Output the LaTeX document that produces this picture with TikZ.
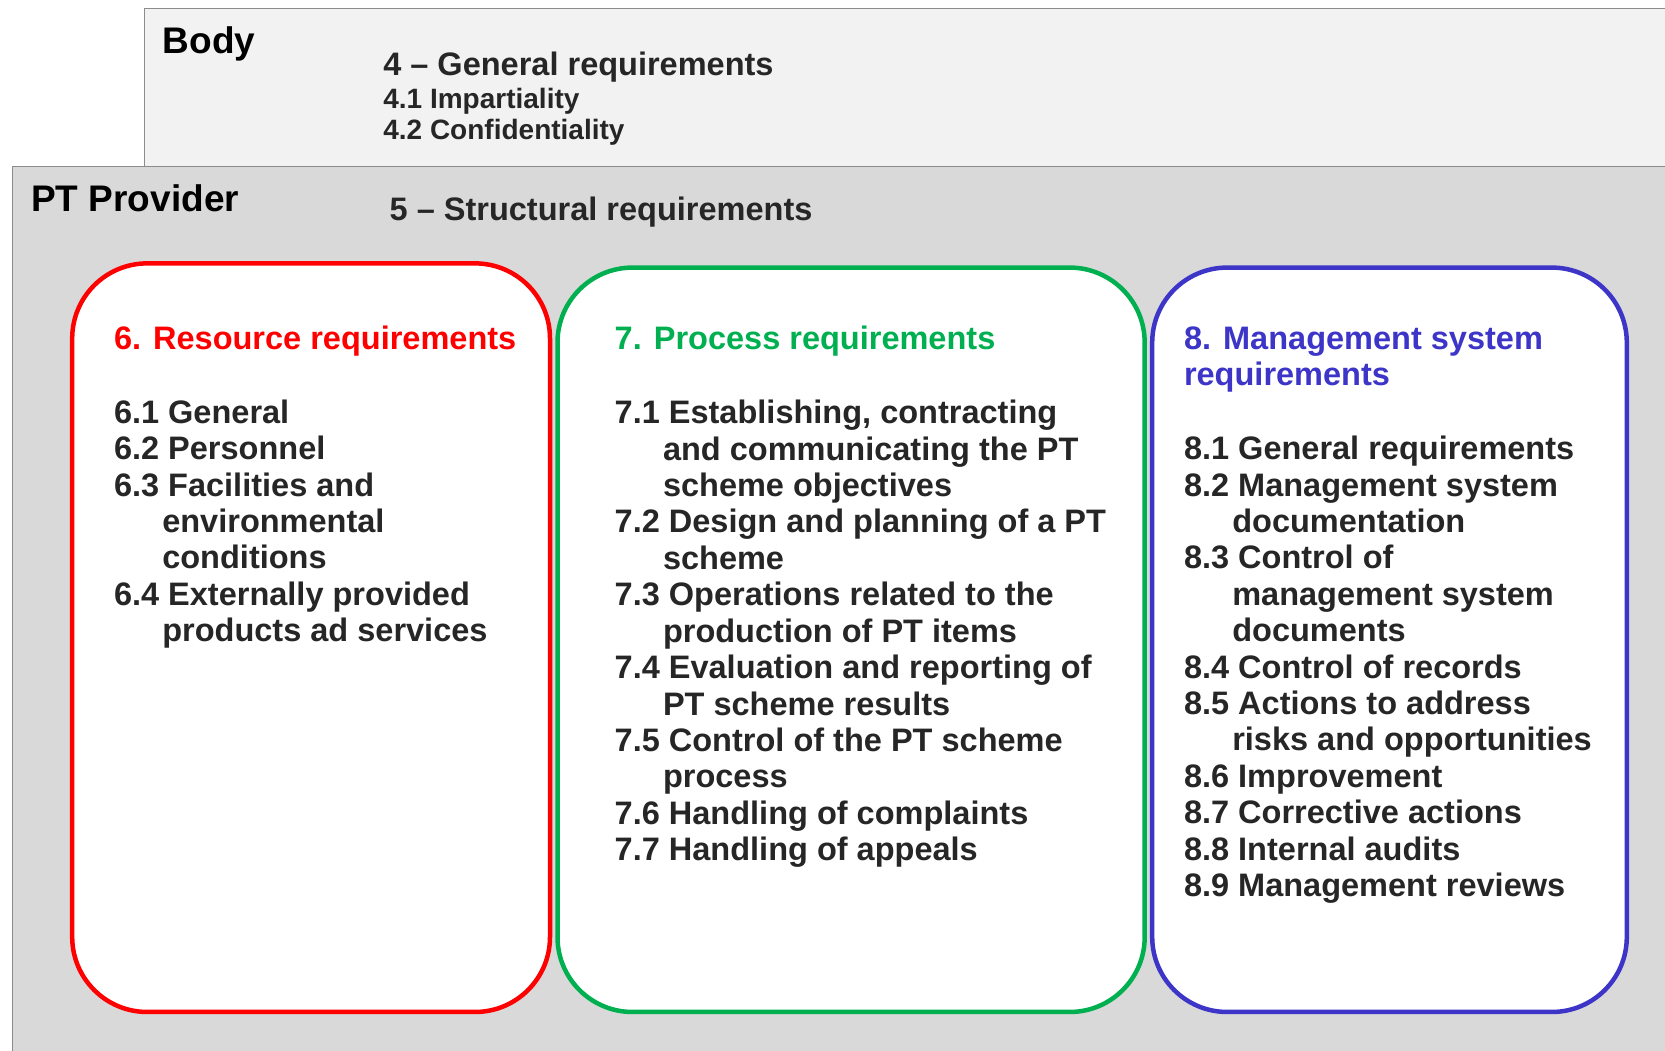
\documentclass[tikz,border=0pt]{standalone}
\usepackage{fontspec}
\setmainfont{Liberation Sans}

\definecolor{resred}{HTML}{FF0000}
\definecolor{procgreen}{HTML}{00B050}
\definecolor{mgmtblue}{HTML}{3C35C8}
\definecolor{txtgray}{HTML}{262626}
\definecolor{bodyfill}{HTML}{F2F2F2}
\definecolor{ptfill}{HTML}{D9D9D9}
\definecolor{edgegray}{HTML}{8C8C8C}

\newcommand{\itemind}{\hspace*{0.483cm}}

\tikzset{
	reqbox/.style={line width=1.28pt, fill=white, rounded corners=0.75cm},
	layer/.style={draw=edgegray, line width=0.45pt},
	headtxt/.style={font=\fontsize{10.53}{12}\selectfont\bfseries, text=black, inner sep=0pt, anchor=base west},
	reqtxt/.style={font=\fontsize{9.25}{10.36}\selectfont\bfseries, text=txtgray, inner sep=0pt},
	subtxt/.style={font=\fontsize{7.97}{8.73}\selectfont\bfseries, text=txtgray, inner sep=0pt, anchor=base west},
	reqlist/.style={reqtxt, align=left, anchor=north west},
}

\begin{document}
\begin{tikzpicture}

	\clip (0,0) rectangle (16.65,10.51);
	\fill[white] (0,0) rectangle (16.65,10.51);

	%The layer Body
	\draw[layer, fill=bodyfill] (1.444,8.843) rectangle (16.9,10.425);
	\node[headtxt] (body) at (1.62,9.975) {Body};
	\node[reqtxt, anchor=base west] (general) at (3.826,9.75) {4 -- General requirements};
	\node[subtxt] (impart) at (3.826,9.42) {4.1 Impartiality};
	\node[subtxt] (confid) at (3.826,9.113) {4.2 Confidentiality};

	%The layer PT Provider
	\draw[layer, fill=ptfill] (0.127,-0.2) rectangle (16.9,8.843);
	\node[headtxt] (provider) at (0.306,8.39) {PT Provider};
	\node[reqtxt, anchor=base west] (struct) at (3.89,8.30) {5 -- Structural requirements};

	%The three requirement boxes
	\draw[reqbox, draw=resred] (0.722,0.39) rectangle (5.50,7.876);
	\draw[reqbox, draw=procgreen] (5.575,0.39) rectangle (11.447,7.834);
	\draw[reqbox, draw=mgmtblue] (11.522,0.39) rectangle (16.268,7.834);

	%6 - resources
	\node[reqtxt, anchor=base west, text=resred] (restitle) at (1.133,7.017) {6. Resource requirements};
	\node[reqlist] (resitems) at (1.133,6.52) {6.1 General\\
		6.2 Personnel\\
		6.3 Facilities and\\
		\itemind environmental\\
		\itemind conditions\\
		6.4 Externally provided\\
		\itemind products ad services};

	%7 - process
	\node[reqtxt, anchor=base west, text=procgreen] (proctitle) at (6.14,7.012) {7. Process requirements};
	\node[reqlist] (procitems) at (6.14,6.515) {7.1 Establishing, contracting\\
		\itemind and communicating the PT\\
		\itemind scheme objectives\\
		7.2 Design and planning of a PT\\
		\itemind scheme\\
		7.3 Operations related to the\\
		\itemind production of PT items\\
		7.4 Evaluation and reporting of\\
		\itemind PT scheme results\\
		7.5 Control of the PT scheme\\
		\itemind process\\
		7.6 Handling of complaints\\
		7.7 Handling of appeals};

	%8 - management system
	\node[reqlist, text=mgmtblue] (mgmttitle) at (11.833,7.25) {8. Management system\\requirements};
	\node[reqlist] (mgmtitems) at (11.833,6.156) {8.1 General requirements\\
		8.2 Management system\\
		\itemind documentation\\
		8.3 Control of\\
		\itemind management system\\
		\itemind documents\\
		8.4 Control of records\\
		8.5 Actions to address\\
		\itemind risks and opportunities\\
		8.6 Improvement\\
		8.7 Corrective actions\\
		8.8 Internal audits\\
		8.9 Management reviews};

\end{tikzpicture}
\end{document}
